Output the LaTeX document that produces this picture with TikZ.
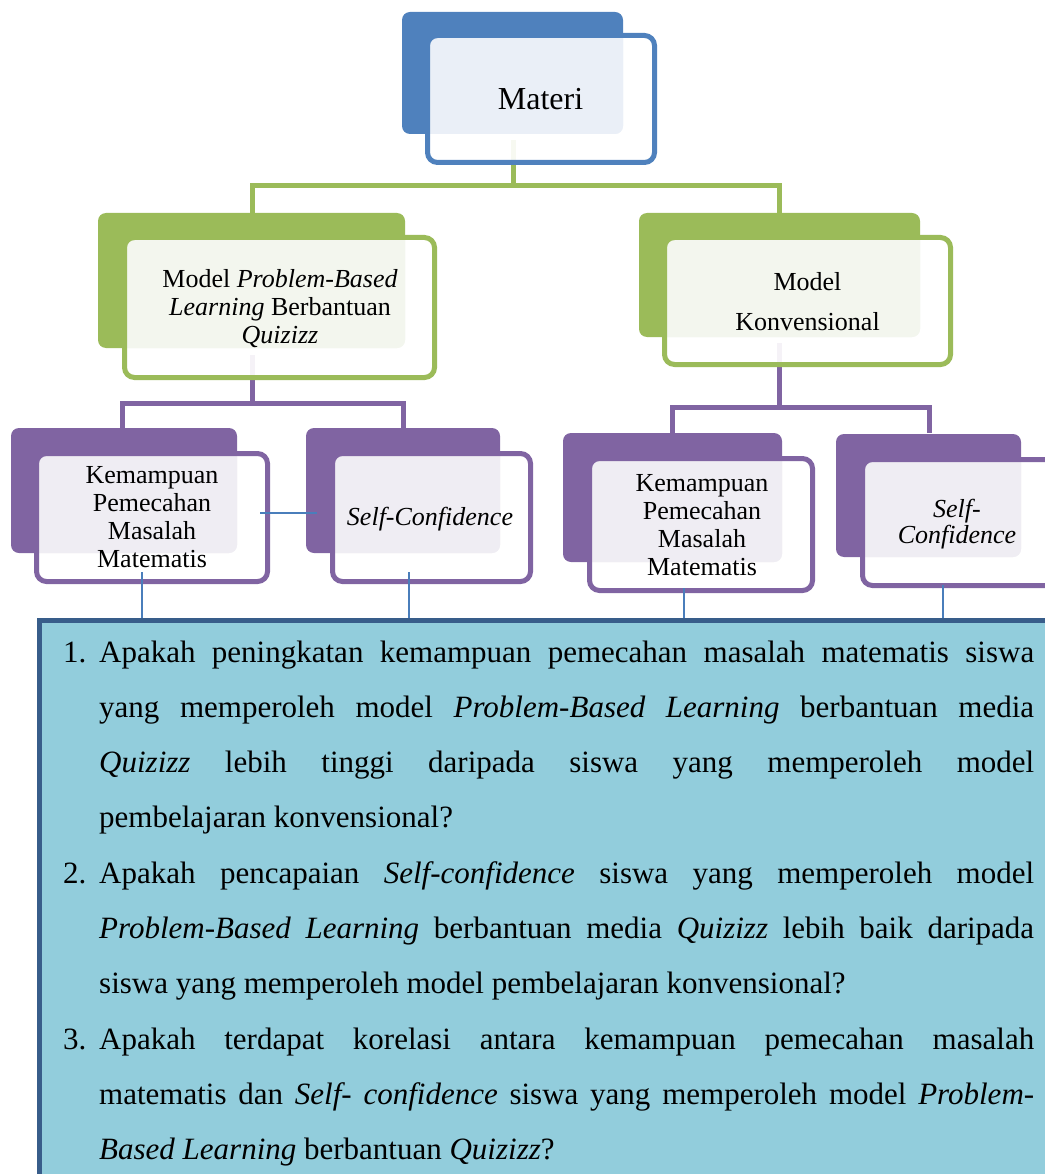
\documentclass[tikz,border=0pt]{standalone}
\usepackage{fontspec}
\setmainfont{Liberation Serif}
\definecolor{bblue}{HTML}{4F81BD}
\definecolor{lblue}{HTML}{EAEFF7}
\definecolor{bgreen}{HTML}{9BBB59}
\definecolor{lgreen}{HTML}{F3F6EE}
\definecolor{bpurple}{HTML}{8064A2}
\definecolor{lpurple}{HTML}{EFEDF3}
\definecolor{qfill}{HTML}{92CDDC}
\definecolor{qborder}{HTML}{385D8A}
\definecolor{thinline}{HTML}{4A7EBB}
\newcommand{\nestbox}[4]{%
  \fill[#1,rounded corners=8] #3;
  \fill[white,fill opacity=0.92,rounded corners=10] #4;
  \begin{scope}
    \clip[rounded corners=10] #4;
    \fill[#2,rounded corners=8] #3;
  \end{scope}
  \draw[#1,line width=5,rounded corners=10] #4;
}
\newcommand{\jl}[1]{\makebox[935pt][s]{#1}}
\tikzset{
  bracket/.style={line width=5},
  thin/.style={thinline,line width=2},
  boxtext/.style={inner sep=0,anchor=base,align=center,font=\fontsize{26}{28}\selectfont},
  qtext/.style={inner sep=0,anchor=base west,align=left,font=\fontsize{31}{55.3}\selectfont},
  qnum/.style={inner sep=0,anchor=base west,font=\fontsize{31}{55.3}\selectfont}
}
\begin{document}
\begin{tikzpicture}[x=1pt,y=-1pt]
\useasboundingbox (0,0) rectangle (1044,1174);
% brackets
\draw[bgreen,bracket] (513,140) -- (513,186);
\draw[bgreen,bracket] (252,213) -- (252,186) -- (779,186) -- (779,213);
\draw[bpurple,bracket] (252,355) -- (252,403);
\draw[bpurple,bracket] (122,428) -- (122,403) -- (403,403) -- (403,428);
\draw[bpurple,bracket] (779,343) -- (779,407);
\draw[bpurple,bracket] (672,433) -- (672,407) -- (929,407) -- (929,433);
% boxes
\nestbox{bblue}{lblue}{(402,12) rectangle (623,134)}{(427.5,35.5) rectangle (654.5,162.5)}
\nestbox{bgreen}{lgreen}{(98,213) rectangle (405,348)}{(124.5,237.5) rectangle (434.5,377.5)}
\nestbox{bgreen}{lgreen}{(639,213) rectangle (920,337)}{(664.5,237.5) rectangle (950.5,364.5)}
\nestbox{bpurple}{lpurple}{(11,428) rectangle (237,553)}{(36.5,453.5) rectangle (267.5,581.5)}
\nestbox{bpurple}{lpurple}{(306,428) rectangle (500,553)}{(332.5,453.5) rectangle (530.5,581.5)}
\nestbox{bpurple}{lpurple}{(563,433) rectangle (782,562)}{(589.5,458.5) rectangle (812.5,590.5)}
\nestbox{bpurple}{lpurple}{(836,434) rectangle (1021,557)}{(862.5,459.5) rectangle (1075,585.5)}
% box texts (base anchor = baseline of last line)
\node[boxtext,font=\fontsize{32}{38}\selectfont] (materi) at (540.5,110) {Materi};
\node[boxtext] (pbl) at (280,343) {Model \textit{Problem-Based}\\\textit{Learning} Berbantuan\\\textit{Quizizz}};
\node[boxtext,font=\fontsize{26}{40}\selectfont] (konv) at (807.5,330) {Model\\Konvensional};
\node[boxtext,font=\fontsize{26}{27.7}\selectfont] (kemL) at (152,567) {Kemampuan\\Pemecahan\\Masalah\\Matematis};
\node[boxtext] (scL) at (430,525) {\textit{Self-Confidence}};
\node[boxtext,font=\fontsize{26}{28}\selectfont] (kemR) at (702,575) {Kemampuan\\Pemecahan\\Masalah\\Matematis};
\node[boxtext,font=\fontsize{26}{26}\selectfont] (scR) at (957,543) {\textit{Self-}\\\textit{Confidence}};
% question box
\draw[qborder,line width=5,fill=qfill] (39.5,620.5) rectangle (1100,1220);
\coordinate (qtop1) at (142,618);
\coordinate (qtop2) at (409,618);
\coordinate (qtop3) at (684,618);
\coordinate (qtop4) at (943,618);
\coordinate (kemLb) at (142,572);
\coordinate (scLb) at (409,572);
\coordinate (kemRb) at (684,588);
\coordinate (scRb) at (943,585);
\coordinate (kemLr) at (260,513);
\coordinate (scLl) at (317,513);
\draw[thin] (kemLb) -- (qtop1);
\draw[thin] (scLb) -- (qtop2);
\draw[thin] (kemRb) -- (qtop3);
\draw[thin] (scRb) -- (qtop4);
\draw[thin] (kemLr) -- (scLl);
% questions
\node[qnum] (n1) at (63,662) {1.};
\node[qtext] (q1) at (99,827.9) {\jl{Apakah peningkatan kemampuan pemecahan masalah matematis siswa}\\
\jl{yang memperoleh model \textit{Problem-Based Learning} berbantuan media}\\
\jl{\textit{Quizizz} lebih tinggi daripada siswa yang memperoleh model}\\
pembelajaran konvensional?};
\node[qnum] (n2) at (63,883.2) {2.};
\node[qtext] (q2) at (99,993.8) {\jl{Apakah pencapaian \textit{Self-confidence} siswa yang memperoleh model}\\
\jl{\textit{Problem-Based Learning} berbantuan media \textit{Quizizz} lebih baik daripada}\\
siswa yang memperoleh model pembelajaran konvensional?};
\node[qnum] (n3) at (63,1049.1) {3.};
\node[qtext] (q3) at (99,1159.7) {\jl{Apakah terdapat korelasi antara kemampuan pemecahan masalah}\\
\jl{matematis dan \textit{Self- confidence} siswa yang memperoleh model \textit{Problem-}}\\
\textit{Based Learning} berbantuan \textit{Quizizz}?};
\end{tikzpicture}
\end{document}
